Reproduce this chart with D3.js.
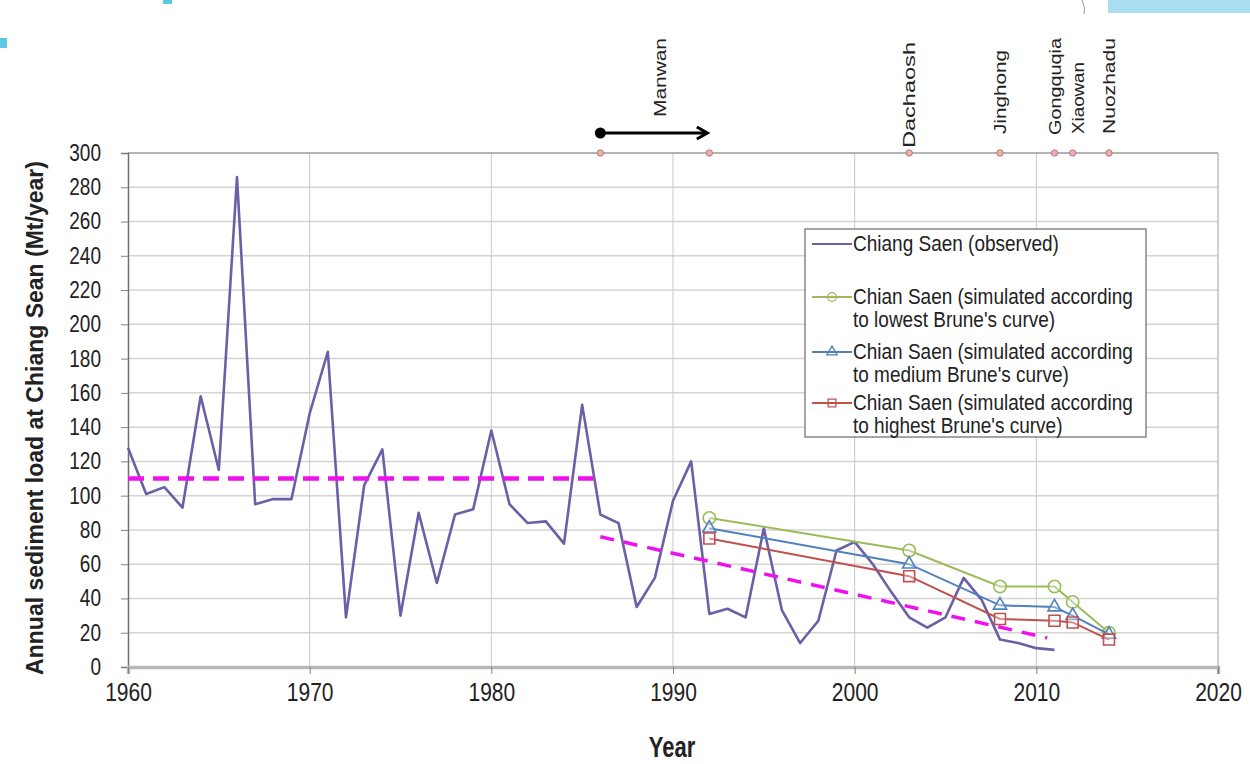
<!DOCTYPE html>
<html><head><meta charset="utf-8">
<script src="https://cdn.jsdelivr.net/npm/d3@7"></script>
<style>body{margin:0;background:#fff;}svg{display:block;font-family:"Liberation Sans",Arial,sans-serif;}</style>
</head><body>
<svg id="c" width="1250" height="764"></svg>
<script>
// ---- data ----
const obsYears = d3.range(1960, 2012);
const obsValues = [128,101,105,93,158,115,286,95,98,98,148,184,29,106,127,30,90,49,89,92,138,95,84,85,72,153,89,84,35,52,97,120,31,34,29,81,33,14,27,68,73,60,44,29,23,29,52,39,16,14,11,10];
const simYears = [1992, 2003, 2008, 2011, 2012, 2014];
const simLowest = [87, 68, 47, 47, 38, 20];
const simMedium = [81, 60, 36, 35, 30, 19];
const simHighest = [75, 53, 28, 27, 26, 16];
const trendPre = [[1960, 110], [1985.6, 110]];
const trendPost = [[1986, 76], [2010.6, 17]];
const damYears = [1986, 1992, 2003, 2008, 2011, 2012, 2014];
const damNames = ["Manwan", "Dachaosh", "Jinghong", "Gongquqia", "Xiaowan", "Nuozhadu"];
const damLabelYears = [1989.3, 2003, 2008, 2011, 2012.3, 2014];
const yTicks = d3.range(0, 301, 20);
const xTicks = d3.range(1960, 2021, 10);
const legendLabels = [["Chiang Saen (observed)"],
  ["Chian Saen (simulated according", "to lowest Brune's curve)"],
  ["Chian Saen (simulated according", "to medium Brune's curve)"],
  ["Chian Saen (simulated according", "to highest Brune's curve)"]];

// ---- layout ----
const damLabelBottoms = [117, 148, 134, 135, 134, 134];
const damLabelLengths = [79, 106, 84, 97, 72, 96];

const svg = d3.select("#c");
const x = d3.scaleLinear().domain([1960, 2020]).range([128, 1218]);
const y = d3.scaleLinear().domain([0, 300]).range([667, 153]);

// slide decorations
svg.append("rect").attr("x",163).attr("y",0).attr("width",9).attr("height",4).attr("fill","#5bc8e8");
svg.append("rect").attr("x",0).attr("y",38).attr("width",7).attr("height",10).attr("fill","#5bc8e8");
svg.append("rect").attr("x",1108).attr("y",0).attr("width",142).attr("height",13).attr("fill","#a8def0");
svg.append("path").attr("d","M1082,0 Q1086,8 1084,14").attr("fill","none").attr("stroke","#999").attr("stroke-width",1);

// gridlines
svg.append("g").selectAll("line").data(yTicks.filter(d=>d>0 && d<300)).join("line")
  .attr("x1",x(1960)).attr("x2",x(2020)).attr("y1",d=>y(d)).attr("y2",d=>y(d))
  .attr("stroke","#d4d4d4").attr("stroke-width",1.5);
svg.append("g").selectAll("line").data(xTicks.filter(d=>d>1960 && d<2020)).join("line")
  .attr("x1",d=>x(d)).attr("x2",d=>x(d)).attr("y1",y(300)).attr("y2",y(0))
  .attr("stroke","#c8c8c8").attr("stroke-width",1);
svg.append("line").attr("x1",x(1960)).attr("x2",x(2020)).attr("y1",y(300)).attr("y2",y(300)).attr("stroke","#9a9a9a").attr("stroke-width",1.5);
svg.append("line").attr("x1",x(2020)).attr("x2",x(2020)).attr("y1",y(300)).attr("y2",y(0)).attr("stroke","#b0b0b0").attr("stroke-width",1.2);

// axes
const yAxis = svg.append("g").attr("transform",`translate(${x(1960)},0)`)
  .call(d3.axisLeft(y).tickValues(yTicks).tickSize(7).tickPadding(20));
yAxis.select(".domain").attr("stroke","#707070").attr("stroke-width",1.5);
yAxis.selectAll(".tick line").attr("stroke","#808080");
yAxis.selectAll("text").attr("font-size",19).attr("fill","#222").attr("font-family","Liberation Sans, Arial")
  .attr("transform","scale(1,1.22)");
const xAxis = svg.append("g").attr("transform",`translate(0,${y(0)})`)
  .call(d3.axisBottom(x).tickValues(xTicks).tickFormat(d3.format("d")).tickSize(7).tickPadding(5));
xAxis.select(".domain").attr("stroke","#b8b8b8").attr("stroke-width",3.5);
xAxis.selectAll(".tick line").attr("stroke","#808080");
xAxis.selectAll("text").attr("font-size",21).attr("fill","#222").attr("font-family","Liberation Sans, Arial")
  .attr("transform","scale(1,1.25)");

// axis titles
svg.append("text").attr("transform",`translate(43,${(y(0)+y(300))/2+8}) rotate(-90)`)
  .attr("text-anchor","middle").attr("font-weight","bold").attr("font-size",23).attr("fill","#222")
  .text("Annual sediment load at Chiang Sean (Mt/year)");
svg.append("text").attr("transform","translate(672,757) scale(1,1.3)").attr("text-anchor","middle")
  .attr("font-weight","bold").attr("font-size",22).attr("fill","#222").text("Year");

// observed line
const line = d3.line().x(d=>x(d[0])).y(d=>y(d[1]));
svg.append("path").datum(obsYears.map((yr,i)=>[yr,obsValues[i]]))
  .attr("d",line).attr("fill","none").attr("stroke","#6c5fa6").attr("stroke-width",2.6).attr("stroke-linejoin","round");

// simulated series
const sims = [
  {vals: simLowest, color:"#9bbb59", marker:"circle"},
  {vals: simMedium, color:"#4f81bd", marker:"triangle"},
  {vals: simHighest, color:"#c0504d", marker:"square"}];
const symFor = m => m==="circle" ? d3.symbolCircle : m==="triangle" ? d3.symbolTriangle : d3.symbolSquare;
sims.forEach(s=>{
  const pts = simYears.map((yr,i)=>[yr,s.vals[i]]);
  svg.append("path").datum(pts).attr("d",line).attr("fill","none").attr("stroke",s.color).attr("stroke-width",2);
  svg.append("g").selectAll("path").data(pts).join("path")
    .attr("transform",d=>`translate(${x(d[0])},${y(d[1])})`)
    .attr("d",d3.symbol().type(symFor(s.marker)).size(s.marker==="triangle"?75:120))
    .attr("fill","rgba(255,255,255,0.35)").attr("stroke",s.color).attr("stroke-width",1.6);
});

// dashed trend lines
[trendPre, trendPost].forEach((t,i)=>{
  svg.append("path").datum(t).attr("d",line).attr("fill","none")
    .attr("stroke","#ee10ee").attr("stroke-width",i===0?4.5:3.5).attr("stroke-dasharray",i===0?"16,9":"14,10");
});

// dam markers along the top
svg.append("g").selectAll("circle").data(damYears).join("circle")
  .attr("cx",d=>x(d)).attr("cy",y(300)).attr("r",3.2)
  .attr("fill","#e6b0b0").attr("stroke","#c07878").attr("stroke-width",1);
// Manwan arrow
const ay = 133;
svg.append("defs").append("marker").attr("id","ah").attr("viewBox","0 0 10 10").attr("refX",8).attr("refY",5)
  .attr("markerWidth",5).attr("markerHeight",5).attr("orient","auto")
  .append("path").attr("d","M1,1 L8,5 L1,9").attr("fill","none").attr("stroke","#000").attr("stroke-width",2);
svg.append("line").attr("x1",x(damYears[0])).attr("x2",x(damYears[1])-2).attr("y1",ay).attr("y2",ay)
  .attr("stroke","#000").attr("stroke-width",3).attr("marker-end","url(#ah)");
svg.append("circle").attr("cx",x(damYears[0])).attr("cy",ay).attr("r",5.5).attr("fill","#000");

// dam labels (rotated)
svg.append("g").selectAll("text").data(damNames).join("text")
  .attr("transform",(d,i)=>`translate(${x(damLabelYears[i])+6},${damLabelBottoms[i]}) rotate(-90)`)
  .attr("font-size",17).attr("fill","#222")
  .attr("textLength",(d,i)=>damLabelLengths[i]).attr("lengthAdjust","spacingAndGlyphs")
  .text(d=>d);

// legend
const lg = svg.append("g");
lg.append("rect").attr("x",805).attr("y",229).attr("width",341).attr("height",208)
  .attr("fill","#fff").attr("stroke","#6a6a6a").attr("stroke-width",1.2);
const legYs = [244, 297, 352, 403];
const legItems = [{color:"#6c5fa6", marker:null}].concat(sims);
legItems.forEach((it,i)=>{
  const ly = legYs[i];
  lg.append("line").attr("x1",812).attr("x2",852).attr("y1",ly).attr("y2",ly).attr("stroke",it.color).attr("stroke-width",2);
  if (it.marker) lg.append("path").attr("transform",`translate(832,${ly})`)
    .attr("d",d3.symbol().type(symFor(it.marker)).size(it.marker==="triangle"?45:60))
    .attr("fill","none").attr("stroke",it.color).attr("stroke-width",1.3);
  legendLabels[i].forEach((t,j)=>{
    lg.append("text").attr("transform",`translate(853,${ly+7+j*22.5}) scale(1,1.15)`)
      .attr("font-size",19).attr("fill","#222").text(t);
  });
});
</script>
</body></html>
